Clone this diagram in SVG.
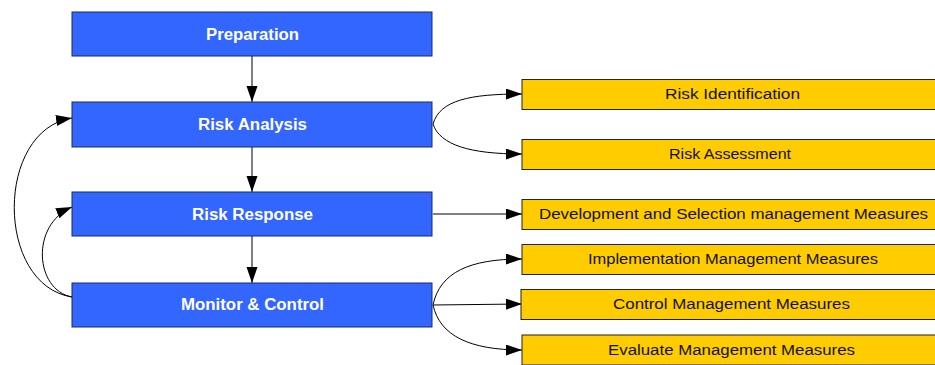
<svg xmlns="http://www.w3.org/2000/svg" width="935" height="365" viewBox="0 0 935 365">
  <style>
    .phase rect { fill: #3366ff; stroke: #1a2a66; stroke-width: 1; }
    .phase text { fill: #ffffff; font-family: "Liberation Sans", Arial, sans-serif; font-size: 16px; font-weight: bold; text-anchor: middle; }
    .task rect { fill: #ffcc00; stroke: #222222; stroke-width: 1; }
    .task text { fill: #111111; font-family: "Liberation Sans", Arial, sans-serif; font-size: 14px; text-anchor: middle; }
    .edge { fill: none; stroke: #000000; stroke-width: 1; marker-end: url(#arrow); }
  </style>
  <defs>
    <marker id="arrow" markerWidth="18" markerHeight="12" refX="16" refY="5.5" orient="auto" markerUnits="userSpaceOnUse">
      <path d="M0,0 L16,5.5 L0,11 Z" fill="#000000"/>
    </marker>
  </defs>
  <rect width="935" height="365" fill="#ffffff"/>

  <!-- connectors -->
  <g id="connectors">
    <path class="edge" d="M252,56 L252,102"/>
    <path class="edge" d="M252,147 L252,192"/>
    <path class="edge" d="M252,236 L252,283"/>
    <!-- Risk Analysis fan-out -->
    <path class="edge" d="M433,124 C440,100 470,94 522,94"/>
    <path class="edge" d="M433,124 C440,145 470,154 522,154"/>
    <!-- Risk Response -->
    <path class="edge" d="M433,214 L522,214"/>
    <!-- Monitor & Control fan-out -->
    <path class="edge" d="M433,305 C440,272 470,259 522,259"/>
    <path class="edge" d="M433,305 L522,304"/>
    <path class="edge" d="M433,305 C440,336 470,350 522,350"/>
    <!-- feedback loops -->
    <path class="edge" d="M72,297 C-5,285 -5,130 72,118"/>
    <path class="edge" d="M72,297 C35,290 30,225 72,207"/>
  </g>

  <!-- phases -->
  <g id="preparation" class="phase">
    <rect x="72" y="12" width="360" height="44"/>
    <text x="252.5" y="39.5" textLength="93" lengthAdjust="spacingAndGlyphs">Preparation</text>
  </g>
  <g id="risk-analysis" class="phase">
    <rect x="72" y="102" width="360" height="45"/>
    <text x="252.5" y="130" textLength="109" lengthAdjust="spacingAndGlyphs">Risk Analysis</text>
  </g>
  <g id="risk-response" class="phase">
    <rect x="72" y="192" width="360" height="44"/>
    <text x="252.5" y="219.5" textLength="121" lengthAdjust="spacingAndGlyphs">Risk Response</text>
  </g>
  <g id="monitor-control" class="phase">
    <rect x="72" y="283" width="360" height="44"/>
    <text x="252.5" y="310" textLength="143" lengthAdjust="spacingAndGlyphs">Monitor &amp; Control</text>
  </g>

  <!-- tasks -->
  <g id="risk-identification" class="task">
    <rect x="522" y="79.5" width="420" height="30"/>
    <text x="732.5" y="99" textLength="135" lengthAdjust="spacingAndGlyphs">Risk Identification</text>
  </g>
  <g id="risk-assessment" class="task">
    <rect x="522" y="139.5" width="420" height="30"/>
    <text x="730" y="159" textLength="122" lengthAdjust="spacingAndGlyphs">Risk Assessment</text>
  </g>
  <g id="development-selection" class="task">
    <rect x="522" y="199.5" width="420" height="30"/>
    <text x="733.5" y="219" textLength="389" lengthAdjust="spacingAndGlyphs">Development and Selection management Measures</text>
  </g>
  <g id="implementation" class="task">
    <rect x="522" y="244.5" width="420" height="30"/>
    <text x="733" y="264" textLength="290" lengthAdjust="spacingAndGlyphs">Implementation Management Measures</text>
  </g>
  <g id="control-measures" class="task">
    <rect x="521" y="289.5" width="420" height="30"/>
    <text x="731.5" y="309" textLength="237" lengthAdjust="spacingAndGlyphs">Control Management Measures</text>
  </g>
  <g id="evaluate-measures" class="task">
    <rect x="522" y="335" width="420" height="30"/>
    <text x="731.5" y="354.5" textLength="247" lengthAdjust="spacingAndGlyphs">Evaluate Management Measures</text>
  </g>
</svg>
